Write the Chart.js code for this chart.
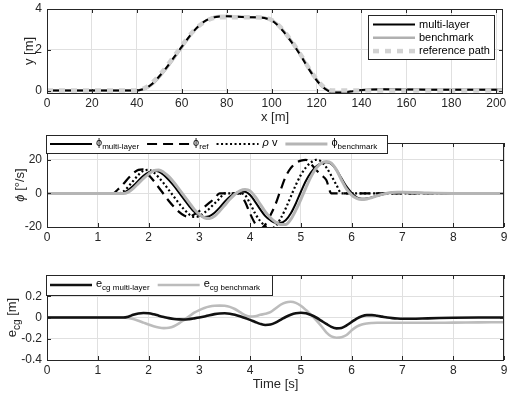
<!DOCTYPE html>
<html>
<head>
<meta charset="utf-8">
<script src="https://cdn.jsdelivr.net/npm/chart.js"></script>
<style>
  body { margin: 0; background: #fff; width: 512px; height: 395px; position: relative; overflow: hidden; }
  canvas { position: absolute; left: 0; }
</style>
</head>
<body>
<canvas id="pathChart" width="512" height="125" style="top:0"></canvas>
<canvas id="yawChart" width="512" height="135" style="top:125px"></canvas>
<canvas id="errChart" width="512" height="135" style="top:260px"></canvas>
<script>
"use strict"

// --- top: lateral position y [m] over x [m] ---
const pathX = [0, 10, 20, 30, 38, 41, 44, 47, 50, 53, 56, 59, 62, 65, 68, 71, 74, 77, 80, 85, 90, 95,
  98, 101, 104, 107, 110, 113, 116, 119, 122, 125, 128, 131, 135, 140, 150, 160, 170, 180, 190, 200, 203]
const pathMultiLayer = [0, 0, 0, 0, 0, 0.02, 0.12, 0.35, 0.7, 1.1, 1.55, 2.0, 2.45, 2.88, 3.22, 3.45, 3.58, 3.63, 3.64, 3.62, 3.6, 3.58,
  3.52, 3.36, 3.05, 2.65, 2.2, 1.7, 1.15, 0.65, 0.25, 0, -0.1, -0.1, -0.05, 0.03, 0.06, 0.05, 0.04, 0.04, 0.04, 0.04, 0.04]
const pathBenchmark = [0, 0, 0, 0, 0, 0.02, 0.1, 0.32, 0.66, 1.06, 1.5, 1.96, 2.42, 2.86, 3.2, 3.45, 3.6, 3.66, 3.66, 3.63, 3.6, 3.59,
  3.54, 3.4, 3.1, 2.7, 2.25, 1.75, 1.2, 0.7, 0.28, 0.02, -0.08, -0.09, -0.05, 0.02, 0.05, 0.05, 0.05, 0.05, 0.05, 0.05, 0.05]
const pathReference = [0, 0, 0, 0, 0, 0.03, 0.15, 0.4, 0.75, 1.15, 1.6, 2.05, 2.5, 2.9, 3.2, 3.42, 3.55, 3.6, 3.6, 3.6, 3.6, 3.58,
  3.55, 3.4, 3.1, 2.7, 2.25, 1.75, 1.2, 0.7, 0.3, 0.05, 0, 0, 0, 0, 0, 0, 0, 0, 0, 0, 0]
const pathXTicks = [0, 20, 40, 60, 80, 100, 120, 140, 160, 180, 200]
const pathYTicks = [0, 2, 4]

// --- middle: yaw rate [deg/s] over time [s] ---
const yawT = [0, 1,
  1.3, 1.4, 1.5, 1.6, 1.7, 1.8, 1.9,
  2.0, 2.1, 2.2, 2.3, 2.4, 2.5, 2.6, 2.7, 2.8, 2.9,
  3.0, 3.1, 3.2, 3.3, 3.4, 3.5, 3.6, 3.7, 3.8, 3.9,
  4.0, 4.1, 4.2, 4.3, 4.4, 4.5, 4.6, 4.7, 4.8, 4.9,
  5.0, 5.1, 5.2, 5.3, 5.4, 5.5, 5.6, 5.7, 5.8, 5.9,
  6.0, 6.1, 6.2, 6.3, 6.4, 6.5, 6.6, 6.7, 6.8, 6.9,
  7.0, 7.5, 8, 8.5, 9]
const yawMultiLayer = [0, 0,
  0, 0, 0.3, 2, 4.5, 7.5, 10.5,
  12.5, 13.5, 13, 11, 8, 4.5, 0.5, -3.5, -7.5, -11,
  -13, -14, -13.5, -11.5, -8.5, -5, -2, 0, 1, 1,
  -1, -5, -9.5, -13.5, -16, -17.5, -17.5, -16, -12, -6,
  1, 7.5, 12.5, 16, 18, 18.5, 17.5, 14, 9, 4,
  0.3, -2.3, -3.2, -3, -2.3, -1.4, -0.6, 0.1, 0.6, 0.9,
  0.8, 0.2, 0, 0, 0]
const yawRef = [0, 0,
  0, 2.5, 5.5, 9, 12, 14, 14.3,
  11, 7.5, 3.5, -0.5, -4.5, -8, -11, -13.2, -14, -12.5,
  -10.5, -8, -5.5, -3, 0, 0, 0, 0, 0, -5,
  -12, -18, -21, -18.5, -13, -6.5, 2, 10, 15, 18,
  19.5, 20, 17.5, 14, 11, 8, 0, 0, 0, 0,
  0, 0, 0, 0, 0, 0, 0, 0, 0, 0,
  0, 0, 0, 0, 0]
const yawRhoV = [0, 0,
  0, 0, 1, 4, 7.5, 11, 13.5,
  14, 12.5, 9.5, 6, 2, -2, -6, -9.5, -12.5, -14,
  -13.5, -11.5, -9, -6, -3, 0, 0, 0, 0, -1,
  -6, -12, -16.5, -19.5, -21, -19.5, -15, -9, -2, 5,
  11, 15.5, 18.5, 20, 19, 15.5, 10.5, 5, 0, 0,
  0, 0, 0, 0, 0, 0, 0, 0, 0, 0,
  0, 0, 0, 0, 0]
const yawBenchmark = [0, 0,
  0, 0, 0, 0.8, 3, 6, 9,
  11.5, 13.5, 14, 12.5, 10, 6.5, 2.5, -1.5, -5.5, -9.5,
  -12.5, -14.5, -15, -13.5, -10.5, -7, -3.5, -0.5, 1.5, 2.3,
  1.5, -2, -6.5, -11, -14.5, -17, -18.5, -18.5, -15.5, -10,
  -3.5, 3.5, 10, 15, 18, 19, 18, 14, 8, 2.5,
  -1, -3, -3.7, -3.3, -2.5, -1.5, -0.6, 0.1, 0.5, 0.7,
  0.7, 0.2, 0, 0, 0]
const timeTicks = [0, 1, 2, 3, 4, 5, 6, 7, 8, 9]
const yawYTicks = [-20, 0, 20]

// --- bottom: lateral error e_cg [m] over time [s] ---
const errT = [0, 1,
  1.5, 1.6, 1.7, 1.8, 1.9,
  2.0, 2.1, 2.2, 2.3, 2.4, 2.5, 2.6, 2.7, 2.8, 2.9,
  3.0, 3.1, 3.2, 3.3, 3.4, 3.5, 3.6, 3.7, 3.8, 3.9,
  4.0, 4.1, 4.2, 4.3, 4.4, 4.5, 4.6, 4.7, 4.8, 4.9,
  5.0, 5.1, 5.2, 5.3, 5.4, 5.5, 5.6, 5.7, 5.8, 5.9,
  6.0, 6.1, 6.2, 6.3, 6.4, 6.5, 6.6, 6.7, 6.8, 6.9,
  7.0, 7.5, 8, 8.5, 9]
const errMultiLayer = [0, 0,
  0, 0.008, 0.025, 0.038, 0.043,
  0.04, 0.03, 0.017, 0.005, -0.006, -0.014, -0.018, -0.019, -0.015, -0.008,
  0, 0.01, 0.022, 0.032, 0.038, 0.04, 0.036, 0.026, 0.012, -0.005,
  -0.022, -0.042, -0.06, -0.07, -0.066, -0.048, -0.022, 0.005, 0.026, 0.04,
  0.045, 0.04, 0.024, 0, -0.03, -0.06, -0.088, -0.102, -0.098, -0.075,
  -0.042, -0.01, 0.012, 0.022, 0.022, 0.016, 0.008, 0, -0.006, -0.01,
  -0.012, -0.008, -0.002, 0, 0]
const errBenchmark = [0, 0,
  0, -0.005, -0.015, -0.03, -0.048,
  -0.066, -0.082, -0.094, -0.1, -0.097, -0.082, -0.055, -0.022, 0.012, 0.045,
  0.07, 0.09, 0.103, 0.11, 0.112, 0.11, 0.1, 0.08, 0.05, 0.022,
  0.008, 0.012, 0.025, 0.035, 0.05, 0.085, 0.12, 0.142, 0.148, 0.138,
  0.11, 0.07, 0.025, -0.025, -0.08, -0.14, -0.178, -0.19, -0.185, -0.165,
  -0.12, -0.085, -0.065, -0.056, -0.052, -0.05, -0.05, -0.05, -0.05, -0.05,
  -0.05, -0.05, -0.048, -0.046, -0.044]
const errYTicks = [-0.4, -0.2, 0, 0.2]

const FONT = '"Liberation Sans", Arial, Helvetica, sans-serif'
const INK = '#262626'
const GRID = '#e0e0e0'
Chart.defaults.font.family = FONT
Chart.defaults.color = INK

function points(xs, ys) {
  return xs.map((x, i) => ({ x: x, y: ys[i] }))
}

function series(label, xs, ys, color, width, dash) {
  return {
    label: label,
    data: points(xs, ys),
    borderColor: color,
    borderWidth: width,
    borderDash: dash || [],
    borderCapStyle: 'butt',
    pointRadius: 0,
    cubicInterpolationMode: 'monotone',
    clip: 0
  }
}

// text with optional subscript parts, returns width
function drawRich(ctx, parts, x, y, size) {
  let w = 0
  parts.forEach(p => {
    const s = p.sub ? size - 3 : size
    ctx.font = (p.italic ? 'italic ' : '') + s + 'px ' + FONT
    ctx.fillText(p.t, x + w, y + (p.sub ? size * 0.38 : 0))
    w += ctx.measureText(p.t).width
  })
  return w
}
function richWidth(ctx, parts, size) {
  let w = 0
  parts.forEach(p => {
    ctx.font = (p.italic ? 'italic ' : '') + (p.sub ? size - 3 : size) + 'px ' + FONT
    w += ctx.measureText(p.t).width
  })
  return w
}

function sample(ctx, ds, x1, x2, y) {
  ctx.save()
  ctx.strokeStyle = ds.borderColor
  ctx.lineWidth = ds.borderWidth
  ctx.setLineDash(ds.borderDash || [])
  ctx.lineCap = 'butt'
  ctx.beginPath()
  ctx.moveTo(x1, y)
  ctx.lineTo(x2, y)
  ctx.stroke()
  ctx.restore()
}

// box, inward ticks, y title and legend drawn like the matlab figure
function makeFrame(spec) {
  return {
    id: 'matlabFrame',
    afterDraw(chart) {
      const { ctx, chartArea: a, scales } = chart
      ctx.save()
      ctx.strokeStyle = INK
      ctx.lineWidth = 1
      ctx.beginPath()
      scales.x.ticks.forEach(t => {
        const px = Math.round(scales.x.getPixelForValue(t.value)) + 0.5
        ctx.moveTo(px, a.bottom); ctx.lineTo(px, a.bottom - 4)
        ctx.moveTo(px, a.top); ctx.lineTo(px, a.top + 4)
      })
      scales.y.ticks.forEach(t => {
        const py = Math.round(scales.y.getPixelForValue(t.value)) + 0.5
        ctx.moveTo(a.left, py); ctx.lineTo(a.left + 4, py)
        ctx.moveTo(a.right, py); ctx.lineTo(a.right - 4, py)
      })
      ctx.stroke()
      ctx.strokeRect(Math.round(a.left) + 0.5, Math.round(a.top) + 0.5,
        Math.round(a.right - a.left) - 1, Math.round(a.bottom - a.top))

      // y axis title, rotated
      const yt = spec.yTitle
      ctx.save()
      ctx.translate(yt.x, (a.top + a.bottom) / 2)
      ctx.rotate(-Math.PI / 2)
      ctx.fillStyle = INK
      ctx.textBaseline = 'middle'
      drawRich(ctx, yt.parts, -richWidth(ctx, yt.parts, 13) / 2, 0, 13)
      ctx.restore()

      // legend
      const lg = spec.legend
      ctx.fillStyle = '#fff'
      ctx.fillRect(lg.x, lg.y, lg.w, lg.h)
      ctx.strokeStyle = INK
      ctx.strokeRect(lg.x + 0.5, lg.y + 0.5, lg.w, lg.h)
      ctx.textBaseline = 'middle'
      let cx = lg.x + 4
      lg.items.forEach((it, i) => {
        const ds = chart.data.datasets[it.ds]
        ctx.fillStyle = '#000'
        if (lg.column) {
          const cy = lg.y + 9.5 + i * 13.3
          sample(ctx, ds, lg.x + 5, lg.x + 47, cy)
          drawRich(ctx, it.parts, lg.x + 51, cy, 11)
        } else {
          const cy = lg.y + lg.h / 2
          sample(ctx, ds, cx, cx + 42, cy)
          const w = drawRich(ctx, it.parts, cx + 46, cy - 1, 11)
          cx += 46 + w + 8
        }
      })
      ctx.restore()
    }
  }
}

function makeChart(id, datasets, spec) {
  const canvas = document.getElementById(id)
  const H = canvas.height
  return new Chart(canvas, {
    type: 'line',
    data: { datasets: datasets },
    options: {
      responsive: false,
      animation: false,
      devicePixelRatio: 1,
      layout: { padding: { left: 0, top: spec.area.top, right: 512 - spec.area.right, bottom: 0 } },
      plugins: { legend: { display: false }, tooltip: { enabled: false } },
      scales: {
        x: {
          type: 'linear', min: spec.xMin, max: spec.xMax,
          afterBuildTicks: s => { s.ticks = spec.xTicks.map(v => ({ value: v })) },
          afterFit: s => { s.height = H - spec.area.bottom; s.paddingLeft = 0; s.paddingRight = 0 },
          border: { display: false },
          grid: { color: GRID, drawTicks: false },
          ticks: { padding: 3, font: { size: 12 }, color: INK, maxRotation: 0, autoSkip: false, callback: v => String(v) },
          title: spec.xTitle
            ? { display: true, text: spec.xTitle, font: { size: 13 }, color: INK, padding: { top: 0, bottom: spec.xTitlePad } }
            : { display: false }
        },
        y: {
          type: 'linear', min: spec.yMin, max: spec.yMax,
          afterBuildTicks: s => { s.ticks = spec.yTicks.map(v => ({ value: v })) },
          afterFit: s => { s.width = spec.area.left; s.paddingTop = 0; s.paddingBottom = 0 },
          border: { display: false },
          grid: { color: GRID, drawTicks: false },
          ticks: { padding: 5, font: { size: 12 }, color: INK, callback: v => String(v) }
        }
      }
    },
    plugins: [makeFrame(spec)]
  })
}

// index 0 is drawn on top
makeChart('pathChart', [
  series('reference path', pathX, pathReference, '#d2d2d2', 4.5, [6, 6]),
  series('multi-layer', pathX, pathMultiLayer, '#000', 2),
  series('benchmark', pathX, pathBenchmark, '#b0b0b0', 2.5)
], {
  area: { left: 47, top: 9, right: 503, bottom: 93 },
  xMin: 0, xMax: 203, xTicks: pathXTicks,
  yMin: -0.12, yMax: 4, yTicks: pathYTicks,
  xTitle: 'x [m]', xTitlePad: 0,
  yTitle: { x: 29, parts: [{ t: 'y [m]' }] },
  legend: {
    x: 368, y: 15, w: 126, h: 44, column: true,
    items: [
      { ds: 1, parts: [{ t: 'multi-layer' }] },
      { ds: 2, parts: [{ t: 'benchmark' }] },
      { ds: 0, parts: [{ t: 'reference path' }] }
    ]
  }
})

makeChart('yawChart', [
  series('ϕ benchmark', yawT, yawBenchmark, '#b5b5b5', 3),
  series('ρ v', yawT, yawRhoV, '#000', 2.2, [2, 2.5]),
  series('ϕ ref', yawT, yawRef, '#000', 2.2, [10, 6]),
  series('ϕ multi-layer', yawT, yawMultiLayer, '#000', 2)
], {
  area: { left: 47, top: 18, right: 504, bottom: 102 },
  xMin: 0, xMax: 9, xTicks: timeTicks,
  yMin: -20, yMax: 30, yTicks: yawYTicks,
  yTitle: { x: 20, parts: [{ t: 'ϕ', italic: true }, { t: ' [°/s]' }] },
  legend: {
    x: 46, y: 10, w: 341, h: 18,
    items: [
      { ds: 3, parts: [{ t: 'ϕ' }, { t: 'multi-layer', sub: true }] },
      { ds: 2, parts: [{ t: 'ϕ' }, { t: 'ref', sub: true }] },
      { ds: 1, parts: [{ t: 'ρ', italic: true }, { t: ' v' }] },
      { ds: 0, parts: [{ t: 'ϕ' }, { t: 'benchmark', sub: true }] }
    ]
  }
})

makeChart('errChart', [
  series('e_cg multi-layer', errT, errMultiLayer, '#111', 2.6),
  series('e_cg benchmark', errT, errBenchmark, '#bcbcbc', 2.6)
], {
  area: { left: 47, top: 15, right: 504, bottom: 100 },
  xMin: 0, xMax: 9, xTicks: timeTicks,
  yMin: -0.4, yMax: 0.4, yTicks: errYTicks,
  xTitle: 'Time [s]', xTitlePad: 3,
  yTitle: { x: 12, parts: [{ t: 'e' }, { t: 'cg', sub: true }, { t: ' [m]' }] },
  legend: {
    x: 46, y: 15, w: 226, h: 20,
    items: [
      { ds: 0, parts: [{ t: 'e' }, { t: 'cg multi-layer', sub: true }] },
      { ds: 1, parts: [{ t: 'e' }, { t: 'cg benchmark', sub: true }] }
    ]
  }
})
</script>
</body>
</html>
